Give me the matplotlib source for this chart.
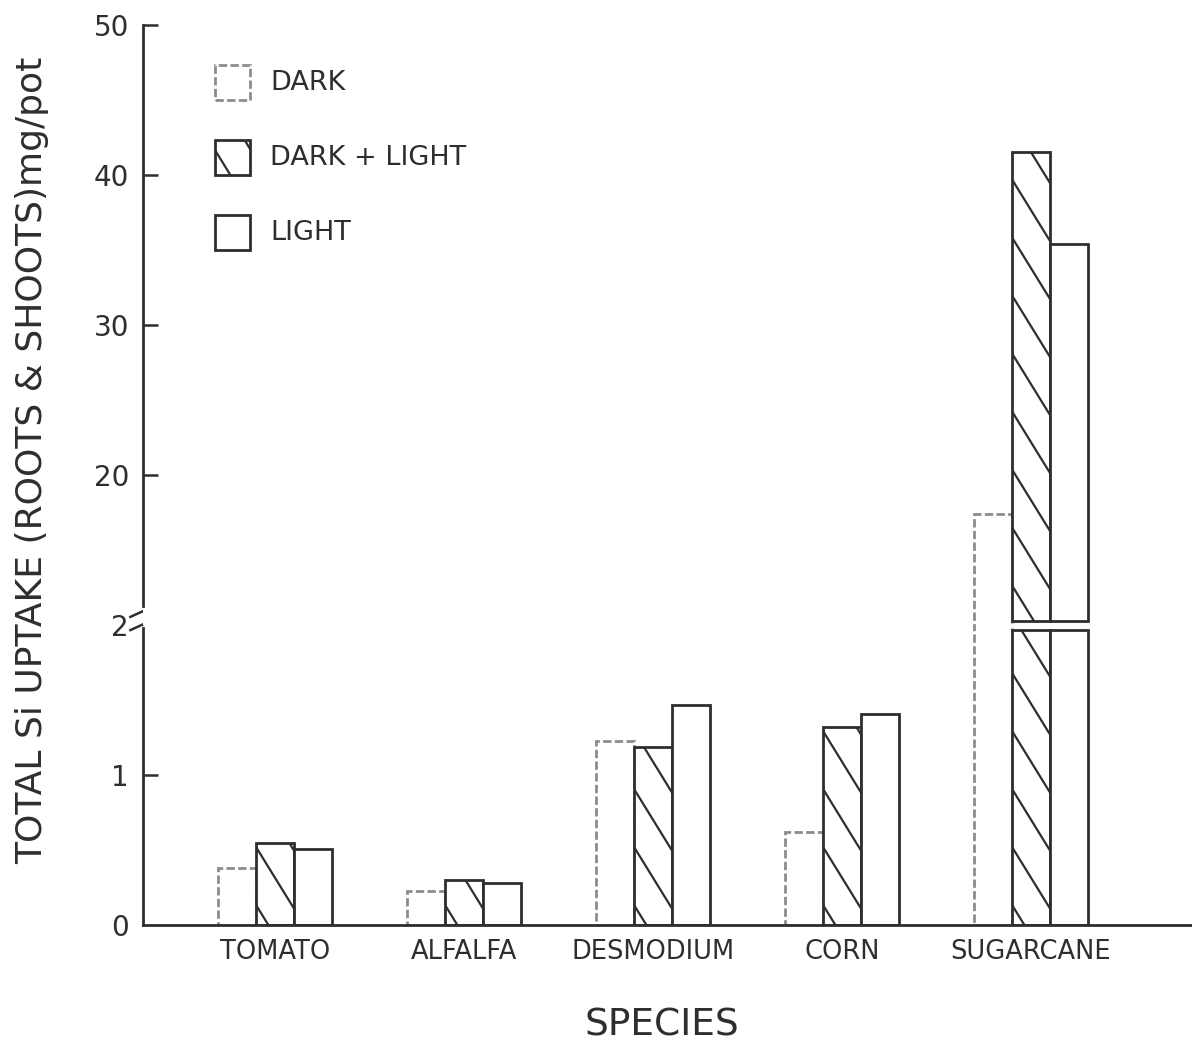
import matplotlib
matplotlib.use('Agg')
import matplotlib.pyplot as plt
from matplotlib.patches import Rectangle
from matplotlib.lines import Line2D
from matplotlib.transforms import IdentityTransform
import numpy as np

# values (mg/pot)
species = ['TOMATO', 'ALFALFA', 'DESMODIUM', 'CORN', 'SUGARCANE']
dark = [0.38, 0.23, 1.23, 0.62, 17.4]
dark_light = [0.55, 0.30, 1.19, 1.32, 41.5]
light = [0.51, 0.28, 1.47, 1.41, 35.4]
labels = ['DARK', 'DARK + LIGHT', 'LIGHT']

low_ticks = [0, 1, 2]
high_ticks = [20, 30, 40, 50]
low_lim = (0, 2)
high_lim = (10, 50)

INK = '#2e2e2e'
GREY = '#8c8c8c'
W = 0.2
LOW_CAP = 1.97     # where the lower piece of a broken bar stops
HIGH_BASE = 10.3   # where the upper piece starts

plt.rcParams['font.family'] = ['DejaVu Sans']
plt.rcParams['text.color'] = INK

fig = plt.figure(figsize=(11.92, 10.43), dpi=100)
fig.patch.set_facecolor('white')
ax_lo = fig.add_axes([143/1192, 118/1043, 1049/1192, 300/1043])
ax_hi = fig.add_axes([143/1192, 418/1043, 1049/1192, 600/1043])

x = np.arange(len(species))
for ax in (ax_lo, ax_hi):
    ax.set_xlim(-0.698, 4.852)
    ax.spines['top'].set_visible(False)
    ax.spines['right'].set_visible(False)
    ax.spines['left'].set_linewidth(2)
    ax.spines['left'].set_color(INK)
    ax.tick_params(axis='y', direction='in', length=11, width=1.8,
                   pad=10, labelsize=20, color=INK, labelcolor=INK)
ax_lo.set_ylim(*low_lim)
ax_hi.set_ylim(*high_lim)
ax_lo.spines['bottom'].set_linewidth(2)
ax_lo.spines['bottom'].set_color(INK)
ax_hi.spines['bottom'].set_visible(False)
ax_hi.set_xticks([])
ax_lo.spines['left'].set_bounds(0, 1.98)
ax_hi.spines['left'].set_bounds(11.3, 50)

ax_lo.set_yticks(low_ticks, [str(t) for t in low_ticks])
ax_lo.yaxis.get_major_ticks()[-1].tick1line.set_visible(False)
ax_lo.yaxis.get_major_ticks()[0].tick1line.set_visible(False)
ax_hi.set_yticks(high_ticks, [str(t) for t in high_ticks])
ax_lo.set_xticks(x, species)
ax_lo.tick_params(axis='x', length=0, pad=10, labelsize=18.5, labelcolor=INK)


def add_hatch(ax, patch, period=58, run=37, drop=60, phase=20):
    # sparse, steep "\" hatching, clipped to the bar
    b = patch.get_extents()
    if b.height <= 0:
        return
    span = drop / run * b.width
    y = b.y0 + phase - period * np.ceil(phase / period)
    while y < b.y1 + span:
        ln = Line2D([b.x0, b.x1], [y, y - span], transform=IdentityTransform(),
                    color=INK, lw=1.6)
        ax.add_line(ln)
        ln.set_clip_path(patch)   # after add_line, which would reset it
        y += period


dark_style = dict(facecolor='white', edgecolor=GREY, linewidth=2,
                  linestyle=(0, (3, 1.2)))
solid_style = dict(facecolor='white', edgecolor=INK, linewidth=2)

# values, offset, style, hatched, caps at the break
series = [(dark, -W, dark_style, False, False),
          (dark_light, 0, solid_style, True, True),
          (light, W, solid_style, False, True)]

for vals, off, st, hatched, capped in series:
    v = np.array(vals)
    lo_h = np.minimum(v, LOW_CAP) if capped else v
    # uncapped bars start below the upper panel so no edge shows at the break
    base = HIGH_BASE if capped else high_lim[0] - 2
    lo = ax_lo.bar(x + off, lo_h, W, **st)
    big = v > low_ticks[-1]
    hi = ax_hi.bar(x[big] + off, v[big] - base, W, bottom=base, **st)
    if hatched:
        for p in lo:
            add_hatch(ax_lo, p)
        for p in hi:
            add_hatch(ax_hi, p, phase=35)

# axis break marks
for yy in [(0.983, 1.023), (1.027, 1.067)]:
    ax_lo.plot([-0.012, 0.013], yy, color=INK, lw=1.8,
               transform=ax_lo.transAxes, clip_on=False)

# legend drawn by hand
box_y = [0.875, 0.75, 0.625]
box_styles = [dark_style, solid_style, solid_style]
for i, lab in enumerate(labels):
    r = Rectangle((0.0686, box_y[i]), 0.0334, 0.058, transform=ax_hi.transAxes,
                  **box_styles[i])
    ax_hi.add_patch(r)
    if i == 1:
        add_hatch(ax_hi, r, phase=25)
    ax_hi.text(0.121, box_y[i] + 0.029, lab, transform=ax_hi.transAxes,
               fontsize=19.5, va='center', ha='left', color=INK)

fig.text(662/1192, 1 - 1025/1043, 'SPECIES', ha='center', va='center',
         fontsize=27, color=INK)
fig.text(32/1192, 1 - 460/1043, 'TOTAL Si UPTAKE (ROOTS & SHOOTS)mg/pot',
         rotation=90, ha='center', va='center', fontsize=26, color=INK)

fig.savefig('out.png', dpi=100, facecolor='white')
